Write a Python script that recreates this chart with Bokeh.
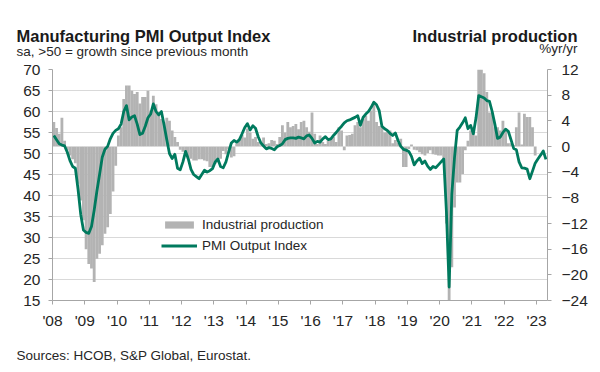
import pandas as pd
from bokeh.plotting import figure
from bokeh.models import Range1d, LinearAxis, FixedTicker, Label, Legend, LegendItem, ColumnDataSource
from bokeh.embed import file_html
from bokeh.resources import INLINE

FONT = "Liberation Sans"

# PMI Output Index, monthly Jan 2008 - Apr 2023
pmi_output = [
    54.3, 53.3, 52.3, 52.0, 51.8, 50.3, 48.3, 46.9, 46.5, 41.5, 35.5, 31.8,   # 2008
    31.2, 31.0, 32.6, 36.5, 41.0, 45.0, 49.1, 51.0, 51.7, 53.5, 54.8, 55.5,   # 2009
    55.9, 57.0, 60.0, 61.4, 58.0, 58.7, 59.0, 57.0, 54.5, 54.8, 56.5, 58.5,   # 2010
    59.4, 61.8, 60.0, 59.2, 60.0, 56.8, 53.3, 50.0, 48.8, 49.8, 46.5, 46.1,   # 2011
    48.0, 50.5, 48.7, 46.2, 45.0, 44.5, 44.0, 45.0, 46.0, 45.6, 45.9, 46.4,   # 2012
    48.0, 48.7, 46.9, 46.6, 48.0, 50.3, 52.5, 53.1, 52.7, 53.3, 54.7, 56.2,   # 2013
    57.1, 55.6, 56.6, 56.0, 54.0, 52.5, 51.8, 51.1, 51.4, 51.2, 50.9, 51.6,   # 2014
    51.9, 52.3, 53.3, 53.6, 53.7, 53.7, 53.6, 53.9, 53.7, 53.5, 54.2, 54.4,   # 2015
    53.6, 52.5, 52.9, 52.7, 53.5, 54.0, 53.3, 53.5, 54.3, 55.0, 55.8, 56.5,   # 2016
    57.3, 57.8, 58.0, 58.3, 58.6, 59.0, 56.7, 58.6, 59.4, 60.0, 61.0, 62.2,   # 2017
    61.6, 60.2, 56.5, 55.9, 55.5, 54.8, 54.3, 54.9, 53.1, 51.7, 51.0, 50.8,   # 2018
    50.5, 49.3, 47.3, 48.2, 48.9, 47.6, 48.2, 47.0, 46.2, 46.9, 46.6, 47.3,   # 2019
    48.0, 48.7, 36.0, 18.2, 40.4, 49.0, 55.5, 56.3, 57.3, 58.5, 55.9, 56.7,   # 2020
    54.7, 58.5, 63.8, 63.5, 63.2, 62.6, 62.4, 60.0, 57.0, 53.6, 53.9, 55.0,   # 2021
    55.8, 55.3, 53.3, 51.2, 50.9, 48.0, 46.6, 46.5, 46.3, 44.0, 45.8, 47.7,   # 2022
    48.7, 49.6, 50.6, 48.6,                                                   # 2023
]

# Industrial production, %yr/yr, monthly Jan 2008 - Dec 2022
industrial_production = [
    3.8, 2.9, 2.0, 4.5, 0.9, -0.6, -1.4, -2.0, -2.6, -5.8, -8.4, -11.5,
    -16.0, -18.3, -19.0, -21.1, -17.5, -16.7, -15.4, -13.6, -12.6, -10.5, -7.0, -3.0,
    1.7, 3.0, 7.4, 9.5, 9.5, 8.7, 8.2, 8.5, 6.7, 7.7, 7.7, 8.7,
    5.6, 7.9, 6.6, 5.3, 4.3, 3.8, 4.5, 4.0, 2.5, 1.5, 0.7, -0.5,
    -0.8, -1.3, -1.7, -1.9, -2.2, -2.2, -2.0, -2.0, -2.2, -2.3, -3.2, -3.2,
    -2.7, -2.5, -1.9, -0.7, -1.2, -0.4, -1.7, -1.5, 0.5, 1.0, 1.8, 1.4,
    2.8, 2.2, 1.2, 1.5, 0.7, 0.2, 1.4, 0.4, 0.5, 1.0, 0.9, 0.4,
    1.5, 3.3, 2.2, 3.8, 3.0, 3.2, 3.5, 2.7, 3.8, 4.0, 3.0, 2.3,
    5.3, 2.0, 0.4, 1.7, 0.7, 0.4, 0.9, 1.2, 1.5, 0.7, 3.0, 2.5,
    -0.6, 1.7, 1.8, 2.0, 3.3, 3.8, 3.0, 4.3, 4.8, 4.0, 5.6, 6.9,
    3.8, 3.2, 3.0, 2.2, 2.5, 2.5, 0.5, 1.0, 0.6, 1.2, -3.2, -3.2,
    -0.4, 0.3, -0.5, -0.6, -0.9, -1.2, -1.4, -1.0, -0.6, -1.2, -1.3, -1.4,
    -1.4, -2.2, -12.0, -28.0, -18.8, -9.5, -5.6, -5.6, -4.3, -0.6, 0.9, 2.5,
    2.5, 1.7, 14.0, 30.0, 11.4, 8.5, 5.3, 5.3, 3.0, 3.0, 2.5, 4.0,
    2.5, 0.5, 0.5, 0.2, 3.0, 5.3, 0.3, 5.1, 4.6, 4.6, 3.0, -1.4,
]

year_ticks = list(range(2008, 2024))
year_labels = ["'08", "'09", "'10", "'11", "'12", "'13", "'14", "'15",
               "'16", "'17", "'18", "'19", "'20", "'21", "'22", "'23"]
left_ticks = [15, 20, 25, 30, 35, 40, 45, 50, 55, 60, 65, 70]
right_ticks = [-24, -20, -16, -12, -8, -4, 0, 4, 8, 12]


def month_centres(n):
    d = pd.date_range("2008-01-01", periods=n, freq="MS")
    return list(d.year + (d.month - 1 + 0.5) / 12.0)


pmi_src = ColumnDataSource(dict(x=month_centres(len(pmi_output)), y=pmi_output))
ip_src = ColumnDataSource(dict(x=month_centres(len(industrial_production)), y=industrial_production))

X0, X1 = 2008.0, 2023.34
FL, FR, FT, FB = 52, 547, 69, 300   # frame edges in page pixels

p = figure(title=None, width=600, height=372, output_backend="svg", toolbar_location=None,
           x_range=Range1d(X0, X1), y_range=Range1d(15, 70),
           min_border_left=FL, min_border_right=600 - FR,
           min_border_top=FT, min_border_bottom=372 - FB)
p.extra_y_ranges = {"ip": Range1d(-24, 12)}
p.outline_line_color = None
p.background_fill_color = "white"
p.border_fill_color = "white"

p.xgrid.visible = False
p.ygrid.ticker = FixedTicker(ticks=left_ticks)
p.ygrid.grid_line_color = "#d9d9d9"
p.ygrid.grid_line_width = 1

p.xaxis.ticker = FixedTicker(ticks=year_ticks)
p.xaxis.major_label_overrides = {t: l for t, l in zip(year_ticks, year_labels)}
p.yaxis.ticker = FixedTicker(ticks=left_ticks)

right_axis = LinearAxis(y_range_name="ip", ticker=FixedTicker(ticks=right_ticks))
p.add_layout(right_axis, "right")

for ax in [p.xaxis[0], p.yaxis[0], right_axis]:
    ax.axis_line_color = "#a6a6a6"
    ax.major_tick_line_color = "#a6a6a6"
    ax.major_tick_out = 4
    ax.major_tick_in = 0
    ax.minor_tick_line_color = None
    ax.major_label_text_font = FONT
    ax.major_label_text_font_size = "15.5px"
    ax.major_label_text_color = "#262626"
p.yaxis[0].major_label_standoff = 8
right_axis.major_label_standoff = 10
p.xaxis[0].major_label_standoff = 7

bars = p.vbar(x="x", top="y", bottom=0, width=1.0 / 12 * 1.05, source=ip_src,
              y_range_name="ip", fill_color="#b3b3b3", line_color=None)
line = p.line(x="x", y="y", source=pmi_src, line_color="#007a5e", line_width=2.8,
              line_join="round")

legend = Legend(items=[LegendItem(label="Industrial production", renderers=[bars]),
                       LegendItem(label="PMI Output Index", renderers=[line])],
                location=(109, 47), orientation="vertical",
                glyph_width=36, glyph_height=9, label_height=9, spacing=6,
                padding=0, margin=0, border_line_color=None, background_fill_alpha=0,
                label_text_font=FONT, label_text_font_size="13.5px",
                label_text_color="#262626", label_standoff=5)
p.add_layout(legend)


def data_x(px):
    return X0 + (px - FL) * (X1 - X0) / (FR - FL)


def data_y(py):
    return 70 - (py - FT) * 55.0 / (FB - FT)


# texts: (page x, page baseline y, text, align, style, size, side panel)
texts = [
    (16, 35, "Manufacturing PMI Output Index", "left", "bold", "16.5px", "above"),
    (577, 35, "Industrial production", "right", "bold", "16.5px", "above"),
    (16, 51, "sa, >50 = growth since previous month", "left", "normal", "13.5px", "above"),
    (577, 48, "%yr/yr", "right", "normal", "13.5px", "below"),
    (16, 355, "Sources: HCOB, S&P Global, Eurostat.", "left", "normal", "13.5px", "below"),
]
for tx, ty, t, al, st, sz, side in texts:
    p.add_layout(Label(x=data_x(tx), y=data_y(ty), text=t, text_align=al,
                       text_baseline="alphabetic", text_font=FONT,
                       text_font_style=st, text_font_size=sz,
                       text_color="#1a1a1a" if st == "bold" else "#262626"), side)

open("out.html", "w").write(file_html(p, INLINE))
